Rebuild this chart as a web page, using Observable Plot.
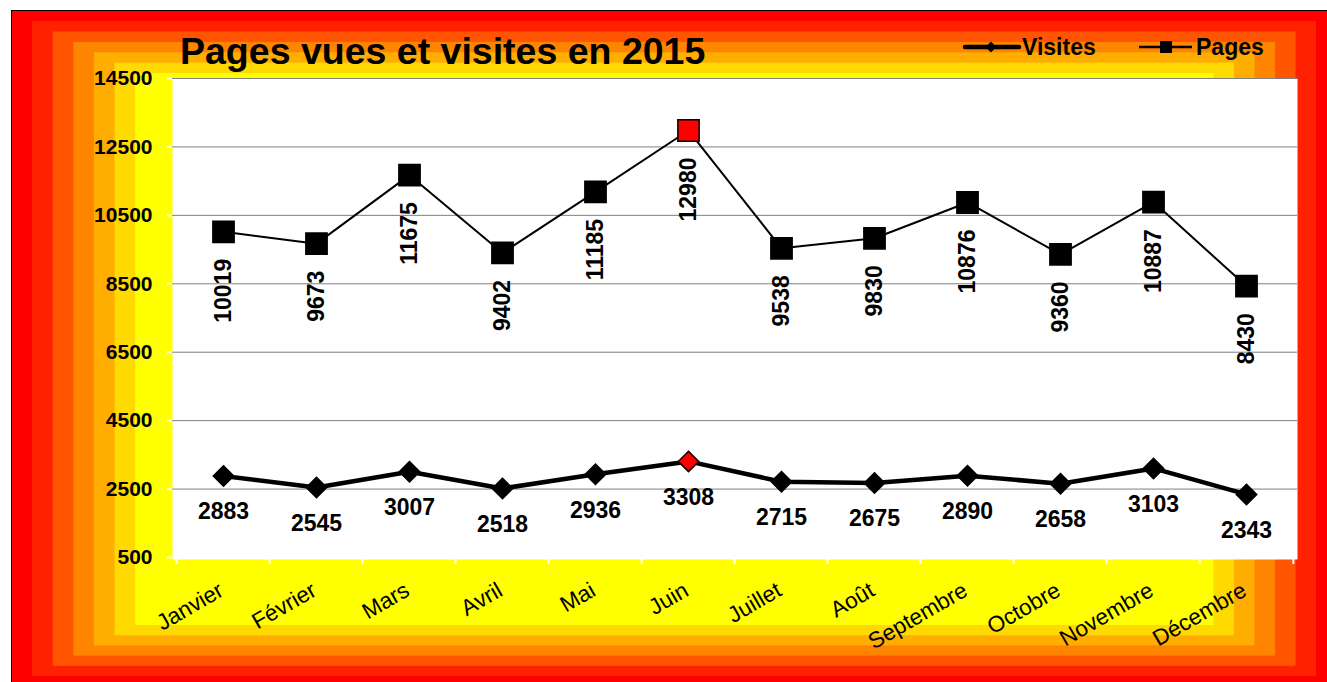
<!DOCTYPE html>
<html><head><meta charset="utf-8">
<script src="https://cdn.jsdelivr.net/npm/d3@7"></script>
<script src="https://cdn.jsdelivr.net/npm/@observablehq/plot@0.6"></script>
<style>
html,body{margin:0;padding:0;background:#fff;}
#wrap{position:relative;width:1327px;height:682px;overflow:hidden;font-family:"Liberation Sans",Arial,sans-serif;}
#bg{position:absolute;left:0;top:0;}
#chart{position:absolute;left:0;top:0;}
</style></head><body>
<div id="wrap"><svg id="bg" width="1327" height="682"></svg><div id="chart"></div></div>
<script>
const months = ["Janvier","Février","Mars","Avril","Mai","Juin","Juillet","Août","Septembre","Octobre","Novembre","Décembre"];
const pages = [10019,9673,11675,9402,11185,12980,9538,9830,10876,9360,10887,8430];
const visites = [2883,2545,3007,2518,2936,3308,2715,2675,2890,2658,3103,2343];
const yTicks = [500,2500,4500,6500,8500,10500,12500,14500];
const highlight = "Juin";
const title = "Pages vues et visites en 2015";
const seriesNames = ["Visites","Pages"];
const bandColors = ["#FF0000","#FF2200","#FF5500","#FF8400","#FFAE00","#FFDA00","#FFFF00"];

const data = months.map((m,i)=>({month:m, pages:pages[i], visites:visites[i]}));

// background concentric bands + title + legend
const bg = d3.select("#bg");
bandColors.forEach((c,i)=>{
  const l = 11.5 + 20.6*i, t = 10.7 + 10.4*i;
  const r = i===0 ? 1340 : 1336.5 - 20.5*i;
  const b = i===0 ? 695 : 686.2 - 10.2*i;
  bg.append("rect").attr("x",l).attr("y",t).attr("width",r-l).attr("height",b-t).attr("fill",c);
});
bg.append("rect").attr("x",11.5).attr("y",10.5).attr("width",1340).attr("height",700)
  .attr("fill","none").attr("stroke","black").attr("stroke-width",1);
bg.append("text").attr("x",180).attr("y",64).attr("font-size",37.5).attr("font-weight","bold")
  .attr("font-family","Liberation Sans, Arial, sans-serif").text(title);
// legend
const lg = bg.append("g").attr("font-family","Liberation Sans, Arial, sans-serif").attr("font-size",23).attr("font-weight","bold");
lg.append("line").attr("x1",965).attr("x2",1019).attr("y1",47).attr("y2",47).attr("stroke","black").attr("stroke-width",4.5).attr("stroke-linecap","round");
lg.append("path").attr("d","M991,41.5L996.5,47L991,52.5L985.5,47Z").attr("fill","black");
lg.append("text").attr("x",1022).attr("y",55).text(seriesNames[0]);
lg.append("line").attr("x1",1139).attr("x2",1192).attr("y1",47).attr("y2",47).attr("stroke","black").attr("stroke-width",2.5);
lg.append("rect").attr("x",1160).attr("y",41).attr("width",12).attr("height",12).attr("fill","black");
lg.append("text").attr("x",1196).attr("y",55).text(seriesNames[1]);

const half = 1125/12/2;
const chart = Plot.plot({
  width:1327, height:682,
  marginLeft:172, marginRight:30, marginTop:78, marginBottom:125,
  style:{background:"transparent", fontFamily:"Liberation Sans, Arial, sans-serif", color:"black", overflow:"visible"},
  x:{type:"point", domain:months, padding:0.5, axis:null},
  y:{domain:[500,14500]},
  color:{type:"identity"},
  marks:[
    Plot.frame({fill:"white", stroke:null, insetBottom:-2}),
    Plot.gridY(yTicks.filter(d=>d>500), {stroke:"#7f7f7f", strokeOpacity:1, strokeWidth:1}),
    Plot.axisY(yTicks, {tickSize:5, tickPadding:15, stroke:"white", strokeWidth:2, fontSize:21, fontWeight:"bold", tickFormat:d=>String(d), label:null}),
    Plot.ruleX(months, {x:d=>d, dx:-half, insetTop:473, dy:7, stroke:"white", strokeWidth:2}),
    Plot.ruleX([months[months.length-1]], {x:d=>d, dx:half, insetTop:473, dy:7, stroke:"white", strokeWidth:2}),
    Plot.text(months, {x:d=>d, frameAnchor:"bottom", dx:-2, dy:31, rotate:-30, textAnchor:"end", lineAnchor:"middle", fontSize:22.5, fill:"black"}),
    Plot.line(data, {x:"month", y:"pages", stroke:"black", strokeWidth:2}),
    Plot.line(data, {x:"month", y:"visites", stroke:"black", strokeWidth:4.5}),
    Plot.dot(data, {x:"month", y:"pages", symbol:"square", r:12, fill:d=>d.month===highlight?"red":"black", stroke:"black", strokeWidth:1.5}),
    Plot.dot(data, {x:"month", y:"visites", symbol:"diamond2", r:9.2, fill:d=>d.month===highlight?"red":"black", stroke:"black", strokeWidth:1.5}),
    Plot.text(data, {x:"month", y:"pages", text:d=>String(d.pages), rotate:-90, textAnchor:"end", lineAnchor:"middle", dy:27, fontSize:23, fontWeight:"bold", fill:"black"}),
    Plot.text(data, {x:"month", y:"visites", text:d=>String(d.visites), dy:36, fontSize:23, fontWeight:"bold", fill:"black"})
  ]
});
document.getElementById("chart").appendChild(chart);
</script>
</body></html>
